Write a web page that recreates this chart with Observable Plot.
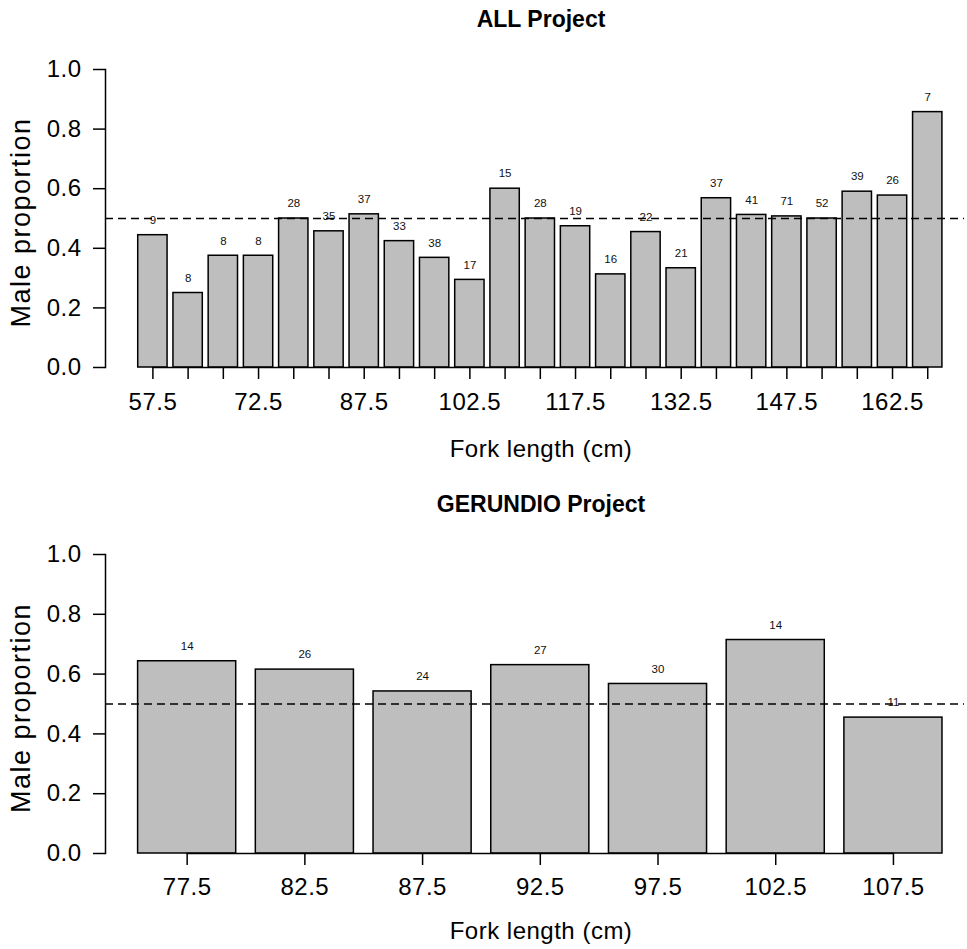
<!DOCTYPE html>
<html>
<head>
<meta charset="utf-8">
<script src="https://cdn.jsdelivr.net/npm/d3@7"></script>
<script src="https://cdn.jsdelivr.net/npm/@observablehq/plot@0.6"></script>
<style>
  html, body { margin: 0; padding: 0; background: white; }
  #root { width: 967px; }
  svg { display: block; }
  svg g[aria-label="x-axis tick label"] text,
  svg g[aria-label="y-axis tick label"] text,
  svg g.xtitle text { letter-spacing: 0.5px; }
  svg g.ytitle text { letter-spacing: 1.5px; }
</style>
</head>
<body>
<div id="root"></div>
<script>
// ---------- Data ----------
const forkAll = [57.5, 62.5, 67.5, 72.5, 77.5, 82.5, 87.5, 92.5, 97.5, 102.5, 107.5, 112.5,
                 117.5, 122.5, 127.5, 132.5, 137.5, 142.5, 147.5, 152.5, 157.5, 162.5, 167.5];
const propAll = [0.444, 0.25, 0.375, 0.375, 0.5, 0.457, 0.514, 0.424, 0.368, 0.294, 0.6, 0.5,
                 0.474, 0.3125, 0.4545, 0.333, 0.568, 0.512, 0.507, 0.5, 0.59, 0.577, 0.857];
const nAll = [9, 8, 8, 8, 28, 35, 37, 33, 38, 17, 15, 28, 19, 16, 22, 21, 37, 41, 71, 52, 39, 26, 7];
const tickLabelsAll = [57.5, 72.5, 87.5, 102.5, 117.5, 132.5, 147.5, 162.5];

const forkGer = [77.5, 82.5, 87.5, 92.5, 97.5, 102.5, 107.5];
const propGer = [0.643, 0.615, 0.542, 0.63, 0.567, 0.714, 0.4545];
const nGer = [14, 26, 24, 27, 30, 14, 11];
const tickLabelsGer = [77.5, 82.5, 87.5, 92.5, 97.5, 102.5, 107.5];

const yTicks = [0, 0.2, 0.4, 0.6, 0.8, 1.0];
const refLine = [0.5];

// ---------- Chart builder ----------
function makeChart({title, fork, prop, n, tickLabels, height, marginTop, marginBottom,
                    paddingOuter, tickPadding, titleDy, xTitleDy}) {
  const data = fork.map((f, i) => ({fork: f, p: prop[i], n: n[i]}));
  const FS = 24;
  const SW = 1.5;
  return Plot.plot({
    width: 967,
    height,
    marginLeft: 105,
    marginRight: 3,
    marginTop,
    marginBottom,
    style: {fontFamily: "'Liberation Sans', Arial, sans-serif", color: "black", background: "white", overflow: "visible"},
    x: {type: "band", domain: fork, paddingInner: 1 / 6, paddingOuter, align: 0.597, round: false},
    y: {domain: [0, 1]},
    marks: [
      Plot.barY(data, {x: "fork", y: "p", fill: "#bebebe", stroke: "black", strokeWidth: SW}),
      Plot.lineY(fork, {x: d => d, y: () => 0, stroke: "black", strokeWidth: SW}),
      Plot.text(data, {x: "fork", y: d => d.p + 0.05, text: d => String(d.n), fontSize: 11.5,
                       fill: "#111", lineAnchor: "middle"}),
      Plot.ruleY(refLine, {stroke: "black", strokeWidth: SW, strokeDasharray: "8,5"}),
      Plot.frame({anchor: "left", stroke: "black", strokeWidth: SW}),
      Plot.axisY({ticks: yTicks, tickFormat: d3.format(".1f"), tickSize: 12, tickPadding: 12,
                  fontSize: FS, label: null, strokeWidth: SW}),
      Plot.axisX({tickSize: 12, tickPadding, fontSize: FS, label: null, strokeWidth: SW,
                  tickFormat: d => tickLabels.includes(d) ? String(d) : ""}),
      Plot.text(["Male proportion"], {frameAnchor: "left", rotate: -90, dx: -84, dy: 4,
                                       fontSize: 27, lineAnchor: "middle", textAnchor: "middle",
                                       className: "ytitle"}),
      Plot.text(["Fork length (cm)"], {frameAnchor: "bottom", dx: 6, dy: xTitleDy,
                                        fontSize: FS, lineAnchor: "middle", className: "xtitle"}),
      Plot.text([title], {frameAnchor: "top", dx: 6, dy: titleDy, fontSize: 23,
                          fontWeight: "bold", lineAnchor: "middle"})
    ]
  });
}

const root = document.getElementById("root");
root.appendChild(makeChart({
  title: "ALL Project", fork: forkAll, prop: propAll, n: nAll, tickLabels: tickLabelsAll,
  height: 470, marginTop: 69, marginBottom: 103, paddingOuter: 0.778, tickPadding: 13,
  titleDy: -50, xTitleDy: 82
}));
root.appendChild(makeChart({
  title: "GERUNDIO Project", fork: forkGer, prop: propGer, n: nGer, tickLabels: tickLabelsGer,
  height: 479, marginTop: 84, marginBottom: 96, paddingOuter: 0.232, tickPadding: 12,
  titleDy: -50, xTitleDy: 78
}));
</script>
</body>
</html>
